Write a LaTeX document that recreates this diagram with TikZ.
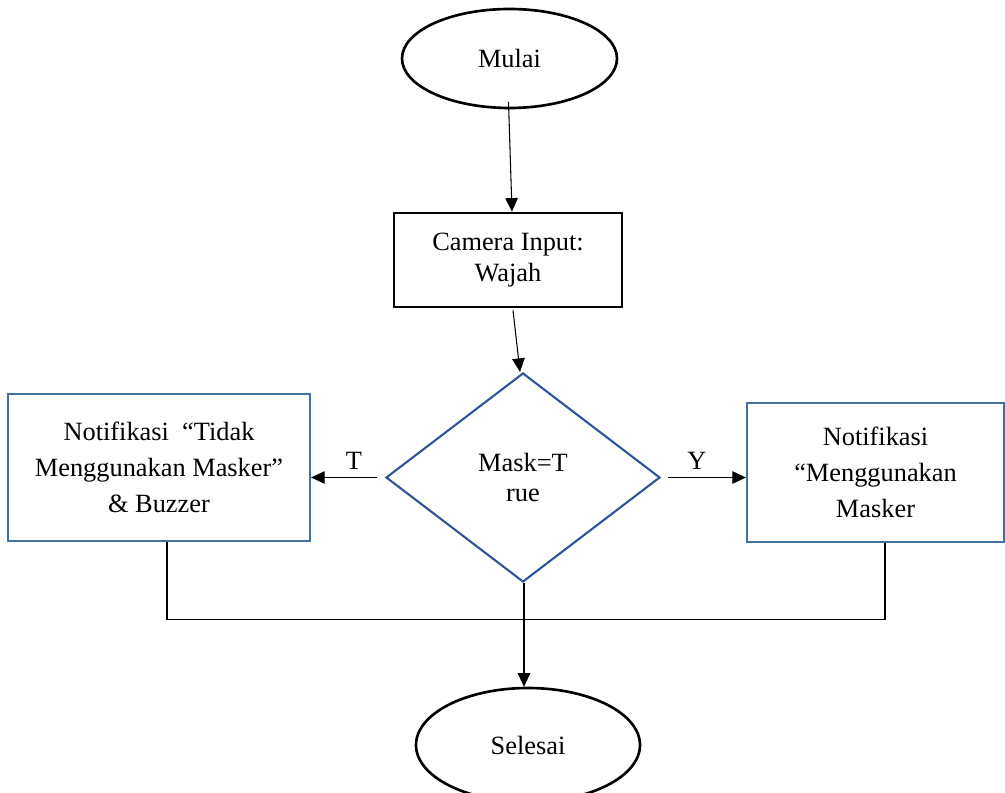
\documentclass[tikz,border=0pt]{standalone}
\usepackage{fontspec}
\setmainfont{Liberation Serif}
\usetikzlibrary{arrows.meta,calc,shapes.geometric,positioning}
\definecolor{FCBlue}{HTML}{41719C}
\definecolor{FCDeep}{HTML}{2F5597}

\begin{document}
\begin{tikzpicture}[
          >={Triangle[length=0.27cm,width=0.25cm]},
          terminal/.style={ellipse,draw,line width=1.5pt,minimum width=4.3cm,inner sep=0pt,font=\fontsize{15}{18}\selectfont},
          process/.style={rectangle,draw,line width=1.6pt,align=center,inner sep=0pt,font=\fontsize{15}{17.6}\selectfont},
          decision/.style={diamond,draw=FCDeep,line width=1.2pt,align=center,inner sep=0pt,font=\fontsize{15}{17.6}\selectfont},
          notif/.style={rectangle,draw=FCBlue,line width=1.3pt,align=center,inner sep=0pt,font=\fontsize{15}{20.5}\selectfont},
          flow/.style={->,line width=0.6pt},
          link/.style={line width=0.6pt},
          tag/.style={font=\fontsize{15}{18}\selectfont}
        ]
        \useasboundingbox (0,0) rectangle (20.1,-15.86);
        \clip (0,0) rectangle (20.1,-15.86);
        \node[terminal,minimum height=1.98cm] (mulai) at (10.19,-1.17) {Mulai};
        \node[process,minimum width=4.56cm,minimum height=1.88cm] (camera) at (10.16,-5.2) {Camera Input:\\Wajah};
        \node[decision,minimum width=5.48cm,minimum height=4.18cm] (mask) at (10.46,-9.55) {Mask=T\\rue};
        \node[notif,minimum width=6.04cm,minimum height=2.94cm] (tidak) at (3.18,-9.35) {Notifikasi\ \ “Tidak\\Menggunakan Masker”\\\& Buzzer};
        \node[notif,minimum width=5.14cm,minimum height=2.78cm] (pakai) at (17.51,-9.45) {Notifikasi\\“Menggunakan\\Masker};
        \node[terminal,minimum width=4.48cm,minimum height=2.28cm] (selesai) at (10.56,-14.9) {Selesai};

        \draw[flow] ([xshift=-0.02cm,yshift=0.15cm]mulai.south) -- ([xshift=0.08cm]camera.north);
        \draw[flow] ([xshift=0.1cm,yshift=-0.04cm]camera.south) -- ([xshift=-0.06cm]mask.north);

        \draw[flow] ([xshift=-0.16cm]mask.west) -- (mask.west -| tidak.east)
          node[tag,pos=0.35,above=1pt] {T};
        \draw[flow] ([xshift=0.14cm]mask.east) -- (mask.east -| pakai.west)
          node[tag,pos=0.37,above=1pt] {Y};

        \draw[link] ([xshift=0.16cm]tidak.south) -- ++(0,-1.54) -| ([xshift=0.19cm]pakai.south);
        \draw[flow] ([xshift=0.02cm]mask.south) -- ([xshift=0.02cm]mask.south |- selesai.north);

      \end{tikzpicture}
\end{document}
